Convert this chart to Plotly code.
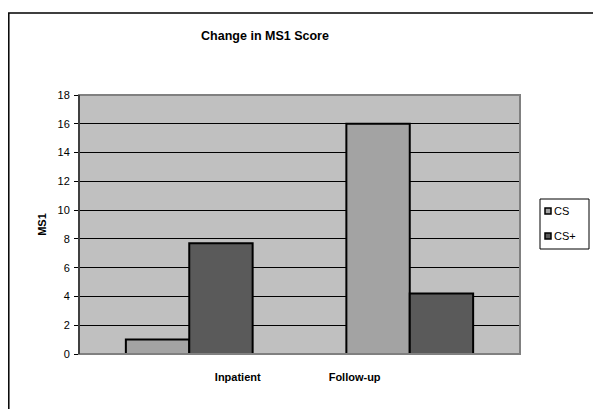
import plotly.graph_objects as go

categories = ["Inpatient", "Follow-up"]
cs_values = [1.0, 16.0]
cs_plus_values = [7.7, 4.2]
series_names = ["CS", "CS+"]
series_colors = ["#A3A3A3", "#5A5A5A"]
y_ticks = [0, 2, 4, 6, 8, 10, 12, 14, 16, 18]

x_pos = list(range(len(categories)))
font_family = "Liberation Sans, Arial, sans-serif"

fig = go.Figure()
for name, vals, col in zip(series_names, [cs_values, cs_plus_values], series_colors):
    fig.add_trace(go.Bar(
        x=x_pos, y=vals, name=name,
        marker=dict(color=col, line=dict(color="black", width=2)),
        showlegend=False,
    ))

# page body margin is removed (see post_script), so figure fills the window
OFF = 0
W, H = 593, 409
L, T = 79, 95
R = W - 520
B = H - 354
pw, ph = W - L - R, H - T - B


def px(page_x):
    return (page_x - OFF - L) / pw


def py(page_y):
    return (H - B - (page_y - OFF)) / ph


fig.update_layout(
    width=W, height=H,
    margin=dict(l=L, r=R, t=T, b=B, pad=0, autoexpand=False),
    paper_bgcolor="white",
    plot_bgcolor="#C0C0C0",
    barmode="group",
    bargap=0.425,
    bargroupgap=0,
    font=dict(family=font_family, color="black", size=11),
    title=dict(
        text="<b>Change in MS1 Score</b>",
        font=dict(size=12.5, family=font_family, color="black"),
        x=265 / W, xref="container", xanchor="center",
        y=1 - 36 / H, yref="container", yanchor="middle",
    ),
    showlegend=False,
    xaxis=dict(
        range=[-0.5, len(categories) - 0.5],
        tickmode="array",
        tickvals=[0.22, 0.75],
        ticktext=categories,
        tickfont=dict(size=11, weight="bold"),
        ticks="", showgrid=False, zeroline=False, showline=False,
        ticklabelstandoff=15,
        automargin=False,
        fixedrange=True,
    ),
    yaxis=dict(
        range=[0, 18],
        tickmode="array", tickvals=y_ticks,
        ticks="outside", ticklen=4, tickcolor="black", tickwidth=1,
        showgrid=True, gridcolor="black", gridwidth=1,
        zeroline=False,
        showline=True, linecolor="black", linewidth=1,
        tickfont=dict(size=11),
        ticklabelstandoff=2,
        automargin=False,
        title=dict(text="<b>MS1</b>", font=dict(size=11), standoff=8),
    ),
)

# plot-area border (gray) top/right/bottom
fig.add_shape(type="rect", xref="paper", yref="paper", x0=0, x1=1, y0=0, y1=1,
              line=dict(color="#808080", width=2), layer="above")
# left axis line black over border
fig.add_shape(type="line", xref="paper", yref="paper", x0=0, x1=0, y0=0, y1=1,
              line=dict(color="black", width=1), layer="above")
# outer chart frame (extends beyond the visible area on the right/bottom)
fig.add_shape(type="rect", xref="paper", yref="paper",
              x0=px(8.8), x1=px(640), y0=py(460), y1=py(13),
              line=dict(color="black", width=1.5), layer="below")

# legend box
fig.add_shape(type="rect", xref="paper", yref="paper",
              x0=px(540), x1=px(589), y0=py(249), y1=py(199),
              line=dict(color="black", width=1), fillcolor="white", layer="above")
legend_rows = [211, 236]
for name, col, yc in zip(series_names, series_colors, legend_rows):
    fig.add_shape(type="rect", xref="paper", yref="paper",
                  x0=px(545), x1=px(551), y0=py(yc + 3), y1=py(yc - 3),
                  line=dict(color="black", width=1.5), fillcolor=col, layer="above")
    fig.add_annotation(xref="paper", yref="paper", x=px(552), y=py(yc),
                       text=name, showarrow=False, xanchor="left", yanchor="middle",
                       font=dict(size=11, family=font_family, color="black"))

fig.write_html(
    "out.html",
    config={"displayModeBar": False},
    post_script="document.body.style.margin='0';document.body.style.overflow='hidden';",
)
